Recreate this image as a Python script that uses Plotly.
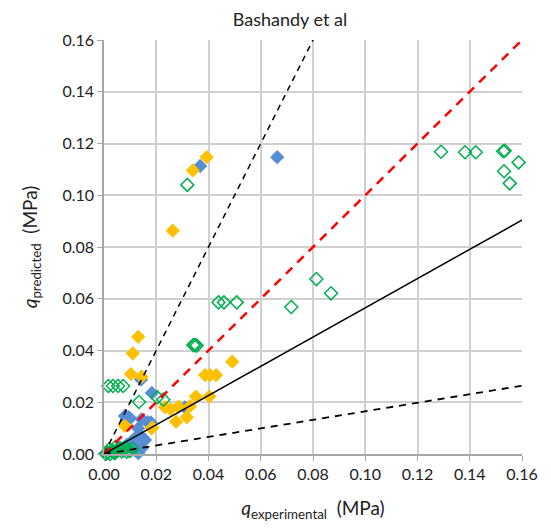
import plotly.graph_objects as go

# Blue filled diamonds
blue_x = [0.0663, 0.0368, 0.0142, 0.0183, 0.031, 0.0093, 0.0080, 0.0100, 0.0087, 0.0144,
          0.0179, 0.0167, 0.0131, 0.0125, 0.0144, 0.0157, 0.0106, 0.0112, 0.0119, 0.0144,
          0.0119, 0.0131, 0.0087, 0.0093, 0.0068, 0.0131, 0.0050]
blue_y = [0.1147, 0.1113, 0.0288, 0.0236, 0.0180, 0.0142, 0.0147, 0.0138, 0.0131, 0.0134,
          0.0122, 0.0123, 0.0099, 0.0067, 0.0067, 0.0054, 0.0048, 0.0054, 0.0035, 0.0022,
          0.0015, 0.0003, 0.0035, 0.0028, 0.0022, 0.0009, 0.0010]

# Yellow filled diamonds
yellow_x = [0.0393, 0.0340, 0.0263, 0.0131, 0.0110, 0.0491, 0.0103, 0.0144, 0.0387, 0.0406,
            0.0429, 0.0352, 0.0403, 0.0233, 0.0255, 0.0285, 0.0329, 0.0276, 0.0317, 0.0182,
            0.0185, 0.0080]
yellow_y = [0.1147, 0.1096, 0.0863, 0.0453, 0.0389, 0.0357, 0.0309, 0.0299, 0.0305, 0.0305,
            0.0305, 0.0222, 0.0222, 0.0181, 0.0173, 0.0183, 0.0185, 0.0125, 0.0142, 0.0099,
            0.0102, 0.0109]

# Green open diamonds
green_x = [0.1290, 0.1382, 0.1423, 0.1528, 0.1534, 0.1587, 0.1531, 0.1553, 0.0813, 0.0869,
           0.0717, 0.0438, 0.0459, 0.0508, 0.0319, 0.0342, 0.0348, 0.0355, 0.0017, 0.0034,
           0.0054, 0.0073, 0.0204, 0.0227, 0.0134,
           0.0010, 0.0023, 0.0036, 0.0049, 0.0061, 0.0074, 0.0087, 0.0093, 0.0015, 0.0030,
           0.0042, 0.0055, 0.0068, 0.0080, 0.0020, 0.0045, 0.0100, 0.0110, 0.0006, 0.0038]
green_y = [0.1168, 0.1166, 0.1166, 0.1170, 0.1172, 0.1127, 0.1093, 0.1046, 0.0676, 0.0621,
           0.0568, 0.0586, 0.0586, 0.0586, 0.1040, 0.0421, 0.0421, 0.0419, 0.0263, 0.0263,
           0.0263, 0.0263, 0.0219, 0.0210, 0.0201,
           0.0003, 0.0000, 0.0009, 0.0015, 0.0022, 0.0015, 0.0009, 0.0015, 0.0006, 0.0012,
           0.0004, 0.0020, 0.0010, 0.0025, 0.0018, 0.0028, 0.0012, 0.0020, 0.0001, 0.0005]

# Reference lines (slope, end x)
line_x_end = {"upper": 0.08, "equal": 0.16, "fit": 0.16, "lower": 0.16}
line_slope = {"upper": 2.0, "equal": 1.0, "fit": 0.565, "lower": 0.165}

tick_vals = [0, 0.02, 0.04, 0.06, 0.08, 0.10, 0.12, 0.14, 0.16]
tick_text = ["0.00", "0.02", "0.04", "0.06", "0.08", "0.10", "0.12", "0.14", "0.16"]

fig = go.Figure()
fig.add_trace(go.Scatter(x=blue_x, y=blue_y, mode="markers",
                         marker=dict(symbol="diamond", size=11, color="#558ED5"),
                         showlegend=False, cliponaxis=False))
fig.add_trace(go.Scatter(x=yellow_x, y=yellow_y, mode="markers",
                         marker=dict(symbol="diamond", size=11, color="#FFC000"),
                         showlegend=False, cliponaxis=False))
fig.add_trace(go.Scatter(x=green_x, y=green_y, mode="markers",
                         marker=dict(symbol="diamond-open", size=10, color="#00B050",
                                     line=dict(width=1.5)),
                         showlegend=False, cliponaxis=False))

styles = {
    "upper": dict(color="black", width=1.5, dash="6px,5px"),
    "equal": dict(color="#FF0000", width=2.5, dash="9px,7px"),
    "fit": dict(color="black", width=1.5),
    "lower": dict(color="black", width=1.8, dash="7px,6px"),
}
for k in ["upper", "equal", "fit", "lower"]:
    xe = line_x_end[k]
    fig.add_trace(go.Scatter(x=[0, xe], y=[0, line_slope[k] * xe], mode="lines",
                             line=styles[k], showlegend=False, hoverinfo="skip"))

axis_common = dict(
    range=[0, 0.16], tickvals=tick_vals, ticktext=tick_text,
    showgrid=True, gridcolor="#D0D0D0", gridwidth=1.5,
    zeroline=False, showline=True, linecolor="#A6A6A6", linewidth=1.5,
    ticks="outside", ticklen=5, tickcolor="#A6A6A6",
    tickfont=dict(family="Lato", size=16, color="#222"),
)

fig.update_layout(
    width=551, height=528,
    margin=dict(l=104, r=29, t=40, b=74),
    plot_bgcolor="white", paper_bgcolor="white",
    title=dict(text="Bashandy et al", x=290 / 551, xanchor="center",
               y=1 - 20 / 528, yanchor="middle",
               font=dict(family="Lato", size=18, color="#222")),
    xaxis=dict(axis_common,
               title=dict(text="<i>q</i><sub>experimental</sub>  (MPa)",
                          font=dict(family="Lato", size=19, color="#222"), standoff=20)),
    yaxis=dict(axis_common,
               title=dict(text="<i>q</i><sub>predicted</sub>  (MPa)",
                          font=dict(family="Lato", size=19, color="#222"), standoff=20)),
)

fig.write_html("out.html", config={"displayModeBar": False},
               post_script="document.body.style.margin='0px';")
